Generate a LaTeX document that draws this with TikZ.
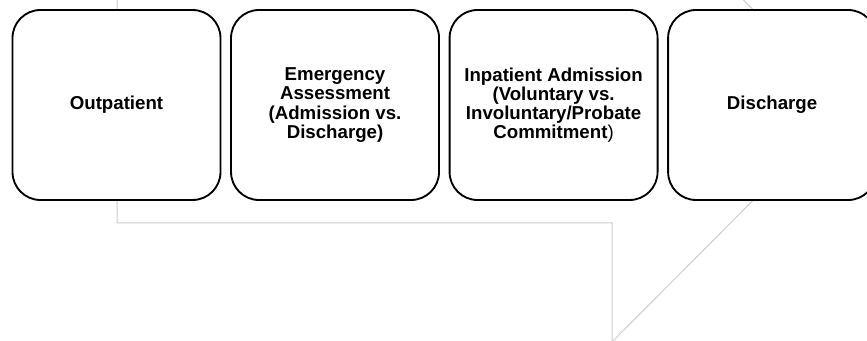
\documentclass[tikz,border=0pt]{standalone}
\usepackage{fontspec}
\setmainfont{Liberation Sans}
\usetikzlibrary{positioning}

\begin{document}
\begin{tikzpicture}[
        x=0.75pt, y=-0.75pt,
        outline/.style={draw=gray!40, line width=0.75pt},
        stepbox/.style={rectangle, draw=black, fill=white, line width=1.4pt, minimum width=156pt, minimum height=142.5pt, rounded corners=21pt, align=center, inner sep=0pt, font=\bfseries\fontsize{14}{14.4}\selectfont},
        node distance=6.5pt
    ]
    
    % 画布
    \useasboundingbox (0,0) rectangle (867,341);
    \clip (0,0) rectangle (867,341);
    
    % 背景箭头轮廓
    \draw[outline] (117,-140) -- (117,223) -- (612,223) -- (612,342) -- (848,105) -- (612,-132);
    
    % 四个阶段
    \node[stepbox] (outpatient) at (116.5,105) {Outpatient};
    \node[stepbox, right=of outpatient] (emergency) {Emergency\\Assessment\\(Admission vs.\\Discharge)};
    \node[stepbox, right=of emergency] (inpatient) {Inpatient Admission\\(Voluntary vs.\\Involuntary/Probate\\Commitment{\mdseries )}};
    \node[stepbox, right=of inpatient] (discharge) {Discharge};
    
\end{tikzpicture}
\end{document}
